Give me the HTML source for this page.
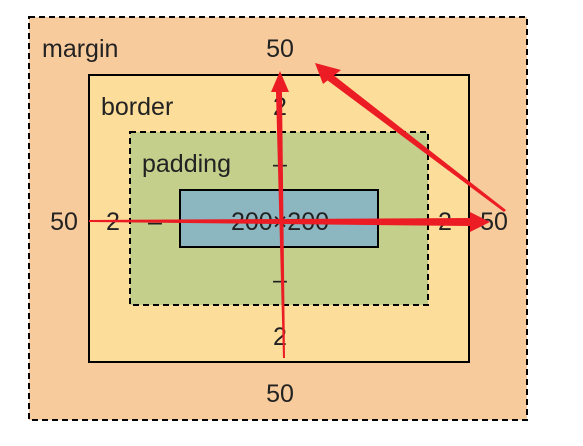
<!DOCTYPE html>
<html><head><meta charset="utf-8"><style>
html,body{margin:0;padding:0;background:#fff;width:583px;height:446px;overflow:hidden}
svg text{font-family:"Liberation Sans","DejaVu Sans",sans-serif;font-size:25px;fill:#222}
</style></head><body>
<svg width="583" height="446">
<rect x="29" y="17" width="498" height="403" fill="#f8cb9c" stroke="#000" stroke-width="2" stroke-dasharray="6,4"/>
<rect x="89" y="75" width="380" height="287" fill="#fcdd9a" stroke="#000" stroke-width="2"/>
<rect x="130" y="132" width="298" height="173" fill="#c3cf8b" stroke="#000" stroke-width="2" stroke-dasharray="6,4"/>
<rect x="180" y="190" width="198" height="57" fill="#8cb6c0" stroke="#000" stroke-width="2"/>
<text x="42" y="57">margin</text>
<text x="101" y="115">border</text>
<text x="142" y="172">padding</text>
<text x="280" y="57" text-anchor="middle">50</text>
<text x="280" y="115" text-anchor="middle">2</text>
<text x="280" y="172" text-anchor="middle">–</text>
<text x="64" y="230" text-anchor="middle">50</text>
<text x="113" y="230" text-anchor="middle">2</text>
<text x="155" y="230" text-anchor="middle">–</text>
<text x="280" y="230" text-anchor="middle">200×200</text>
<text x="445" y="230" text-anchor="middle">2</text>
<text x="494" y="230" text-anchor="middle">50</text>
<text x="280" y="288" text-anchor="middle">–</text>
<text x="280" y="345" text-anchor="middle">2</text>
<text x="280" y="402" text-anchor="middle">50</text>
<g fill="#ec1c24">
<polygon points="283,358 285,358 282,92 277,92 276,92"/>
<polygon points="280,71 271,92 289,92"/>
<polygon points="89,220 89,222 470,226 470,218"/>
<polygon points="490,222 470,212 470,232"/>
<polygon points="506,210 504,212 327,80 332,74"/>
<polygon points="315,63 341,70 323,84"/>
</g>
</svg>
</body></html>
